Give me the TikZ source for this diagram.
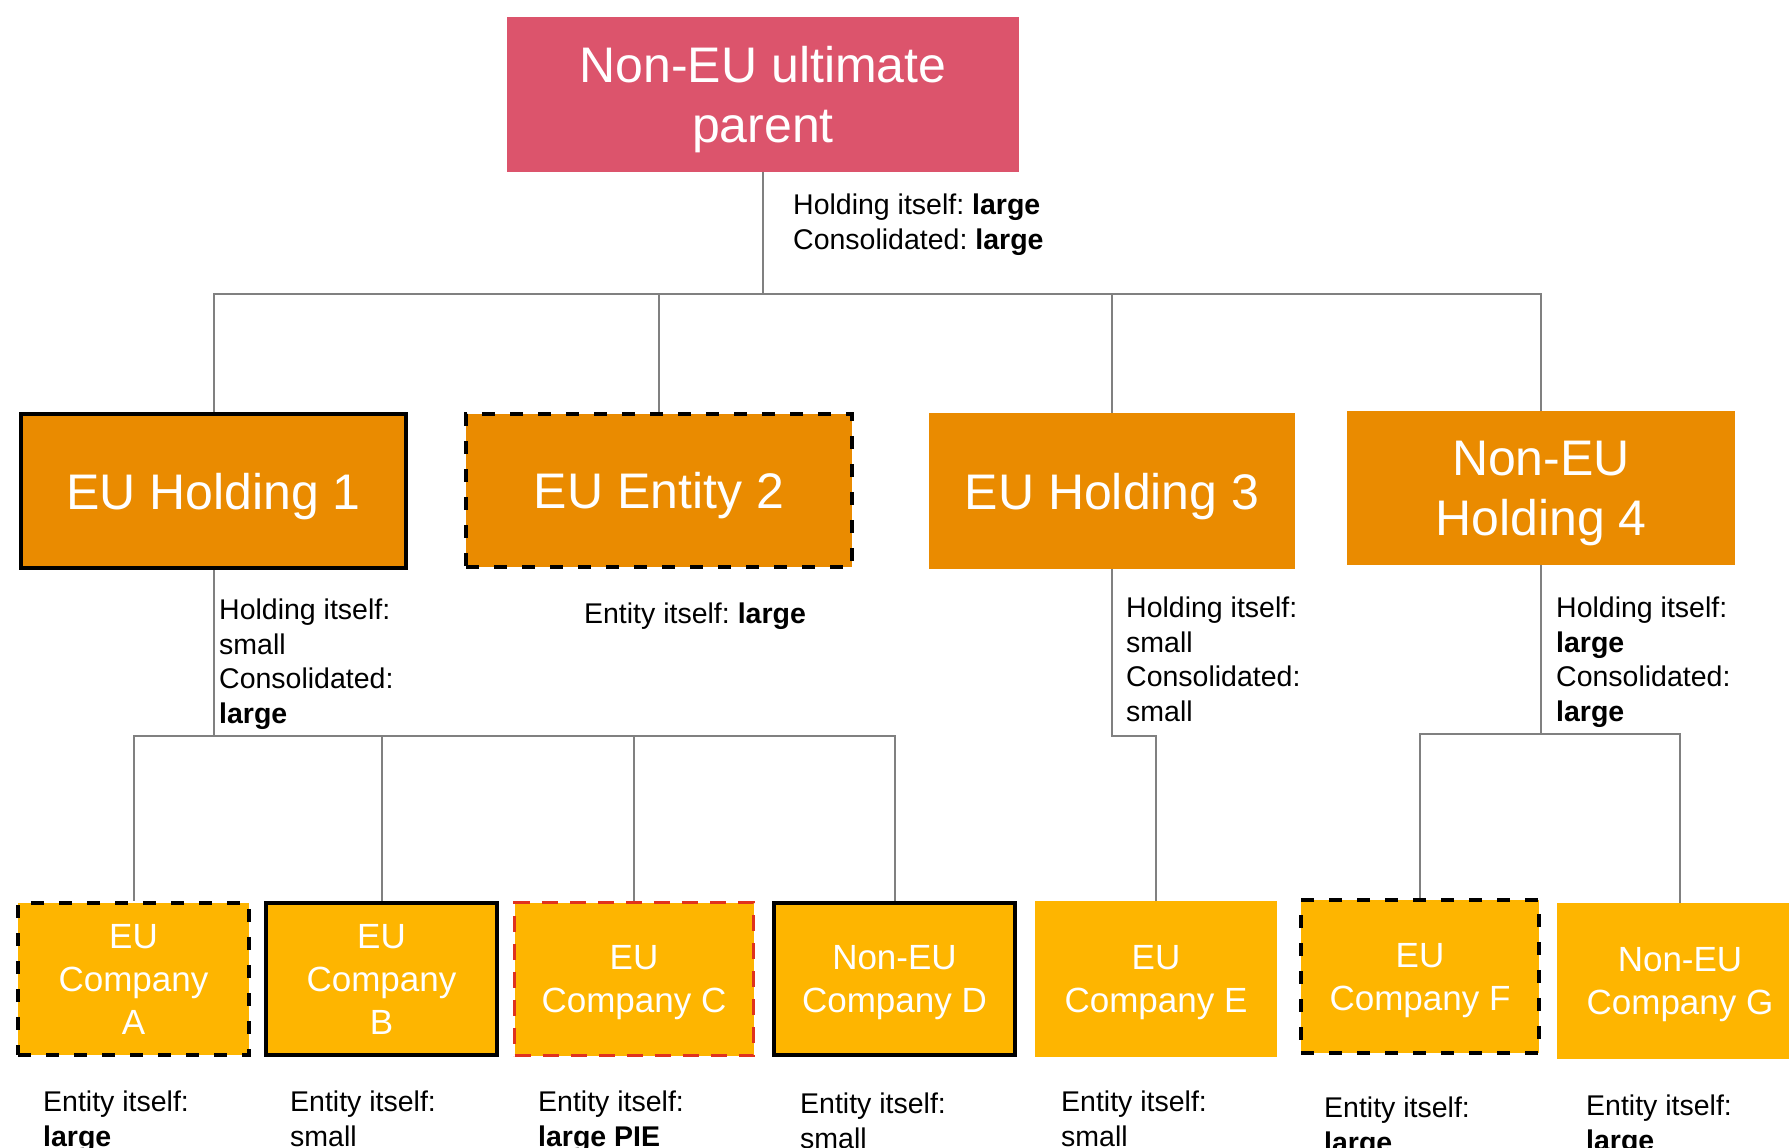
\documentclass[tikz,border=0pt]{standalone}
\usepackage{fontspec}
\setmainfont{Liberation Sans}
\usetikzlibrary{positioning}

\definecolor{parentred}{RGB}{220,84,108}
\definecolor{holdorange}{RGB}{234,139,0}
\definecolor{compyellow}{RGB}{254,181,0}
\definecolor{linegray}{RGB}{128,128,128}
\definecolor{piered}{RGB}{224,50,30}

\begin{document}
\frenchspacing
\begin{tikzpicture}[
    x=1pt, y=-1pt, % one unit per pixel of the sketch
    top/.style={fill=parentred, text=white, minimum width=512pt, minimum height=155pt, align=center, text depth=-4.5pt, font=\fontsize{50}{60}\selectfont},
    hold/.style={fill=holdorange, text=white, minimum width=386pt, minimum height=154pt, align=center, text depth=-4pt, font=\fontsize{50}{60}\selectfont},
    comp/.style={fill=compyellow, text=white, minimum width=238pt, minimum height=152pt, align=center, text depth=-4.5pt, font=\fontsize{35}{43}\selectfont},
    solidbox/.style={draw=black, line width=4pt},
    dashbox/.style={draw=black, line width=4pt, dash pattern=on 13pt off 15pt},
    piebox/.style={draw=piered, line width=3.5pt, dash pattern=on 16pt off 12pt},
    note/.style={inner sep=0pt, align=left, anchor=north west, font=\fontsize{28.5}{34.5}\selectfont},
    link/.style={draw=linegray, line width=2pt}
]
\useasboundingbox (0,0) rectangle (1789,1148);
\clip (0,0) rectangle (1789,1148);

% Nodes: parent and first level
\node[top] (parent) at (763,94.5) {Non-EU ultimate\\parent};
\node[hold, solidbox, minimum width=385pt] (h1) at (213.5,491) {EU Holding 1};
\node[hold, dashbox, minimum height=153pt] (e2) at (659,490.5) {EU Entity 2};
\node[hold, minimum width=366pt, minimum height=156pt] (h3) at (1112,491) {EU Holding 3};
\node[hold, minimum width=388pt, text depth=-1pt] (h4) at (1541,488) {Non-EU\\Holding 4};

% Nodes: companies
\node[comp, dashbox, minimum width=231pt] (ca) at (133.5,979) {EU\\Company\\A};
\node[comp, solidbox, minimum width=231pt] (cb) at (381.5,979) {EU\\Company\\B};
\node[comp, piebox, minimum width=239pt, minimum height=153pt] (cc) at (634,979) {EU\\Company C};
\node[comp, solidbox, minimum width=241pt] (cd) at (894.5,979) {Non-EU\\Company D};
\node[comp, minimum width=242pt, minimum height=156pt] (ce) at (1156,979) {EU\\Company E};
\node[comp, dashbox, minimum width=238pt, minimum height=153pt] (cf) at (1420,976.5) {EU\\Company F};
\node[comp, minimum width=246pt, minimum height=156pt] (cg) at (1680,981) {Non-EU\\Company G};

% Size notes
\node[note] (n0) at (793,194) {Holding itself: \textbf{large}\\Consolidated: \textbf{large}};
\node[note] (n1) at (219,599) {Holding itself:\\small\\Consolidated:\\\textbf{large}};
\node[note, anchor=north] (n2) at (695,603) {Entity itself: \textbf{large}};
\node[note] (n3) at (1126,597) {Holding itself:\\small\\Consolidated:\\small};
\node[note] (n4) at (1556,597) {Holding itself:\\\textbf{large}\\Consolidated:\\\textbf{large}};

\node[note] (na) at (43,1091) {Entity itself:\\\textbf{large}};
\node[note] (nb) at (290,1091) {Entity itself:\\small};
\node[note] (nc) at (538,1091) {Entity itself:\\\textbf{large PIE}};
\node[note] (nd) at (800,1093) {Entity itself:\\small};
\node[note] (ne) at (1061,1091) {Entity itself:\\small};
\node[note] (nf) at (1324,1097) {Entity itself:\\\textbf{large}};
\node[note] (ng) at (1586,1095) {Entity itself:\\\textbf{large}};

% Connectors
\coordinate (bus0) at (763,294);
\coordinate (bus1) at (213.5,736);
\coordinate (bus3) at (1112,736);
\coordinate (bus4) at (1541,734);

\draw[link] (parent.south) -- (bus0);
\draw[link] (bus0) -| (h1.north);
\draw[link] (bus0) -| (e2.north);
\draw[link] (bus0) -| (h3.north);
\draw[link] (bus0) -| (h4.north);

\draw[link] (h1.south) -- (bus1);
\draw[link] (bus1) -| (ca.north);
\draw[link] (bus1) -| (cb.north);
\draw[link] (bus1) -| (cc.north);
\draw[link] (bus1) -| (cd.north);

\draw[link] (h3.south) -- (bus3) -| (ce.north);

\draw[link] (h4.south) -- (bus4);
\draw[link] (bus4) -| (cf.north);
\draw[link] (bus4) -| (cg.north);

\end{tikzpicture}
\end{document}
